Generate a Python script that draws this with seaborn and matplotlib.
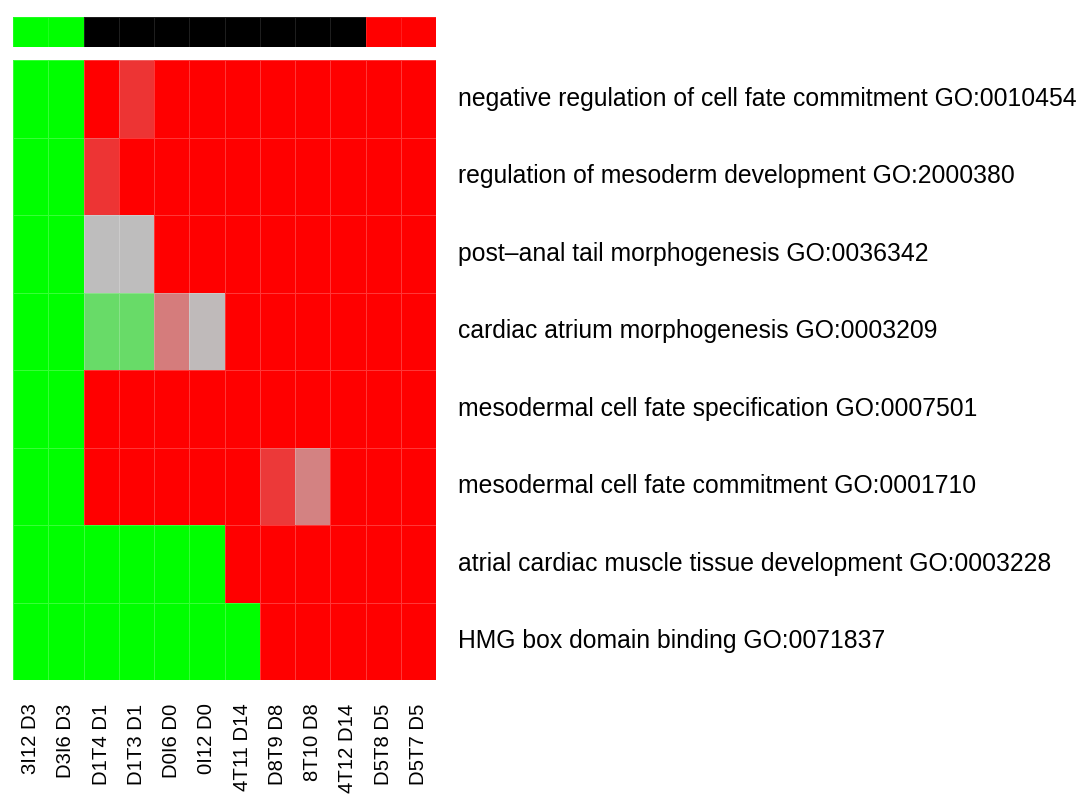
import numpy as np
import pandas as pd
import matplotlib
matplotlib.use("Agg")
import matplotlib.pyplot as plt
from matplotlib.colors import LinearSegmentedColormap, ListedColormap
import seaborn as sns

# ---- data ----
samples = ["3I12 D3", "D3I6 D3", "D1T4 D1", "D1T3 D1", "D0I6 D0", "0I12 D0",
           "4T11 D14", "D8T9 D8", "8T10 D8", "4T12 D14", "D5T8 D5", "D5T7 D5"]
terms = ["negative regulation of cell fate commitment GO:0010454",
         "regulation of mesoderm development GO:2000380",
         "post\u2013anal tail morphogenesis GO:0036342",
         "cardiac atrium morphogenesis GO:0003209",
         "mesodermal cell fate specification GO:0007501",
         "mesodermal cell fate commitment GO:0001710",
         "atrial cardiac muscle tissue development GO:0003228",
         "HMG box domain binding GO:0071837"]
row1 = [-1, -1, 1, 0.72, 1, 1, 1, 1, 1, 1, 1, 1]
row2 = [-1, -1, 0.72, 1, 1, 1, 1, 1, 1, 1, 1, 1]
row3 = [-1, -1, 0, 0, 1, 1, 1, 1, 1, 1, 1, 1]
row4 = [-1, -1, -0.45, -0.45, 0.35, 0.02, 1, 1, 1, 1, 1, 1]
row5 = [-1, -1, 1, 1, 1, 1, 1, 1, 1, 1, 1, 1]
row6 = [-1, -1, 1, 1, 1, 1, 1, 0.7, 0.32, 1, 1, 1]
row7 = [-1, -1, -1, -1, -1, -1, 1, 1, 1, 1, 1, 1]
row8 = [-1, -1, -1, -1, -1, -1, -1, 1, 1, 1, 1, 1]
groups = [0, 0, 1, 1, 1, 1, 1, 1, 1, 1, 2, 2]
group_colors = ["#00ff00", "#000000", "#ff0000"]

values = pd.DataFrame([row1, row2, row3, row4, row5, row6, row7, row8],
                      index=terms, columns=samples)

cmap = LinearSegmentedColormap.from_list("gr", ["#00ff00", "#bebebe", "#ff0000"])

W, H = 1081, 795
fig = plt.figure(figsize=(W / 100, H / 100), dpi=100)
fig.patch.set_facecolor("white")
plt.rcParams["font.family"] = ["Liberation Sans", "DejaVu Sans"]

# top color bar
ax_top = fig.add_axes([13 / W, 1 - 47 / H, 423 / W, 30 / H])
sns.heatmap(pd.DataFrame([groups], columns=samples), ax=ax_top,
            cmap=ListedColormap(group_colors), vmin=-0.5, vmax=2.5,
            cbar=False, xticklabels=False, yticklabels=False,
            linewidths=0.5, linecolor=(1, 1, 1, 0.12))

# main heatmap
ax = fig.add_axes([13 / W, 1 - 680 / H, 423 / W, 620 / H])
sns.heatmap(values, ax=ax, cmap=cmap, vmin=-1, vmax=1, cbar=False,
            linewidths=0.7, linecolor=(1, 1, 1, 0.22))
ax.yaxis.tick_right()
ax.set_yticklabels(terms, rotation=0, fontsize=17.8, va="center", ha="left")
ax.set_xticklabels(samples, rotation=90, fontsize=14.6, va="top", ha="center")
ax.tick_params(axis="y", length=0, pad=16)
ax.tick_params(axis="x", length=0, pad=17)
ax.set_xlabel("")
ax.set_ylabel("")

fig.savefig("out.png", dpi=100, facecolor="white")
